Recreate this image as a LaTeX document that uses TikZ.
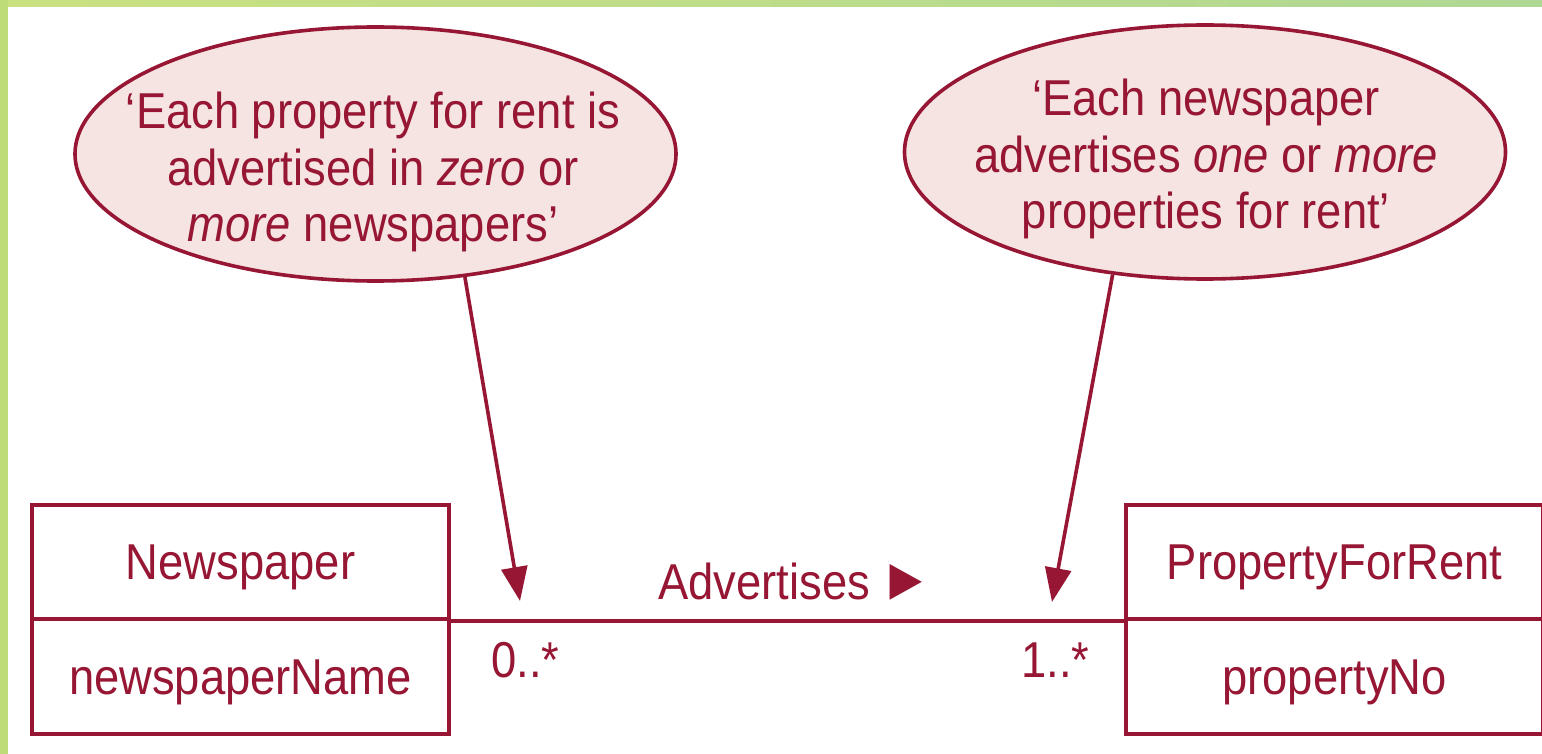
\documentclass[tikz,border=0pt]{standalone}
\usepackage{fontspec}
\setmainfont{Liberation Sans}[FakeStretch=0.9]
\usetikzlibrary{shapes.geometric,arrows.meta}
\definecolor{dred}{RGB}{150,22,52}
\definecolor{bubblefill}{RGB}{245,228,226}
\definecolor{gtopL}{RGB}{202,225,128}
\definecolor{gtopR}{RGB}{175,216,148}
\definecolor{gleft}{RGB}{190,220,120}
\begin{document}
\begin{tikzpicture}[x=0.5pt,y=-0.5pt,
  every node/.style={text=dred, font=\fontsize{25.2}{28.4}\selectfont},
  bubble/.style={ellipse, draw=dred, line width=1.8pt, fill=bubblefill,
    minimum width=300.5pt, minimum height=127pt, inner sep=0pt},
  bubbletext/.style={align=center, inner sep=0pt},
  classpart/.style={draw=dred, line width=2pt, minimum width=208.5pt,
    minimum height=57.25pt, inner sep=0pt, text height=19.5pt, text depth=2pt},
  callout/.style={draw=dred, line width=1.8pt, -{Triangle[length=17pt,width=13pt]}},
  assoc/.style={draw=dred, line width=2pt},
  mult/.style={inner sep=0pt}]
\useasboundingbox (0,0) rectangle (1542,754);
\fill[white] (0,0) rectangle (1542,754);
\shade[left color=gtopL, right color=gtopR] (0,0) rectangle (1542,7);
\fill[gleft] (0,0) rectangle (8,754);

% callout bubbles
\node[bubble] (e1) at (375.5,154) {};
\node[bubbletext] (t1) at (373,172) {‘Each property for rent is\\advertised in \textit{zero} or\\\textit{more} newspapers’};
\node[bubble] (e2) at (1205,152) {};
\node[bubbletext] (t2) at (1206,159) {‘Each newspaper\\advertises \textit{one} or \textit{more}\\properties for rent’};

% classes
\node[classpart] (np) at (240.5,562) {Newspaper};
\node[classpart] (npa) at (240.5,676.5) {newspaperName};
\node[classpart] (pr) at (1334.5,562) {PropertyForRent};
\node[classpart] (pra) at (1334.5,676.5) {propertyNo};

% association
\draw[assoc] (np.south east) -- (pr.south west)
  node[midway, anchor=base, yshift=11pt, xshift=4pt, inner sep=0pt] (lab) {Advertises\hspace{0.18em}{\fontsize{30}{30}\selectfont ►}};
\node[mult, anchor=base west] (m1) at (491,677) {0..*};
\node[mult, anchor=base east] (m2) at (1090,677) {1..*};

% callout arrows
\coordinate (tip1) at (520,601);
\coordinate (tip2) at (1052,602);
\draw[callout] (e1.-54.8) -- (tip1);
\draw[callout] (e2.-127.2) -- (tip2);
\end{tikzpicture}
\end{document}
